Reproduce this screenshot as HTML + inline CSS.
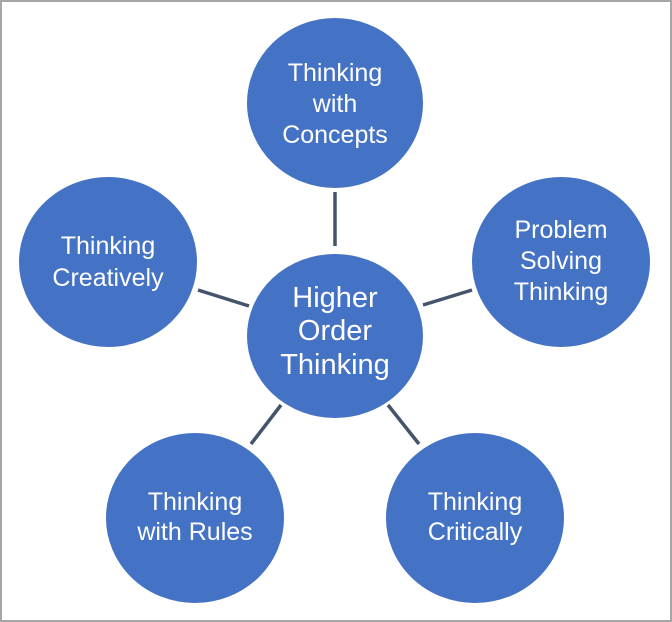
<!DOCTYPE html>
<html><head><style>
html,body{margin:0;padding:0;background:#fff;}
svg{display:block;}
text{font-family:"Liberation Sans",sans-serif;fill:#fff;text-anchor:middle;dominant-baseline:central;}
</style></head><body>
<svg width="672" height="622" viewBox="0 0 672 622">
<rect x="1" y="1" width="670" height="620" fill="#fff" stroke="#a6a6a6" stroke-width="2"/>
<g stroke="#44546a" stroke-width="3.5">
<line x1="335" y1="192" x2="335" y2="246"/>
<line x1="198" y1="290" x2="249" y2="306"/>
<line x1="423" y1="305" x2="472" y2="290"/>
<line x1="281" y1="405" x2="251" y2="444"/>
<line x1="388" y1="405" x2="419" y2="444"/>
</g>
<g fill="#4472c4" stroke="#fff" stroke-width="2">
<ellipse cx="335" cy="103" rx="89" ry="86"/>
<ellipse cx="108" cy="262" rx="90" ry="86"/>
<ellipse cx="561" cy="262" rx="90" ry="86"/>
<ellipse cx="335" cy="336" rx="89" ry="83"/>
<ellipse cx="195" cy="518" rx="90" ry="86"/>
<ellipse cx="475" cy="518" rx="90" ry="86"/>
</g>
<g font-size="25">
<text x="335" y="73">Thinking</text><text x="335" y="104">with</text><text x="335" y="135">Concepts</text>
<text x="561" y="230">Problem</text><text x="561" y="261">Solving</text><text x="561" y="292">Thinking</text>
<text x="108" y="246">Thinking</text><text x="108" y="278">Creatively</text>
<text x="195" y="502">Thinking</text><text x="195" y="532">with Rules</text>
<text x="475" y="502">Thinking</text><text x="475" y="532">Critically</text>
</g>
<g font-size="29">
<text x="335" y="298">Higher</text><text x="335" y="331">Order</text><text x="335" y="365">Thinking</text>
</g>
</svg>
</body></html>
